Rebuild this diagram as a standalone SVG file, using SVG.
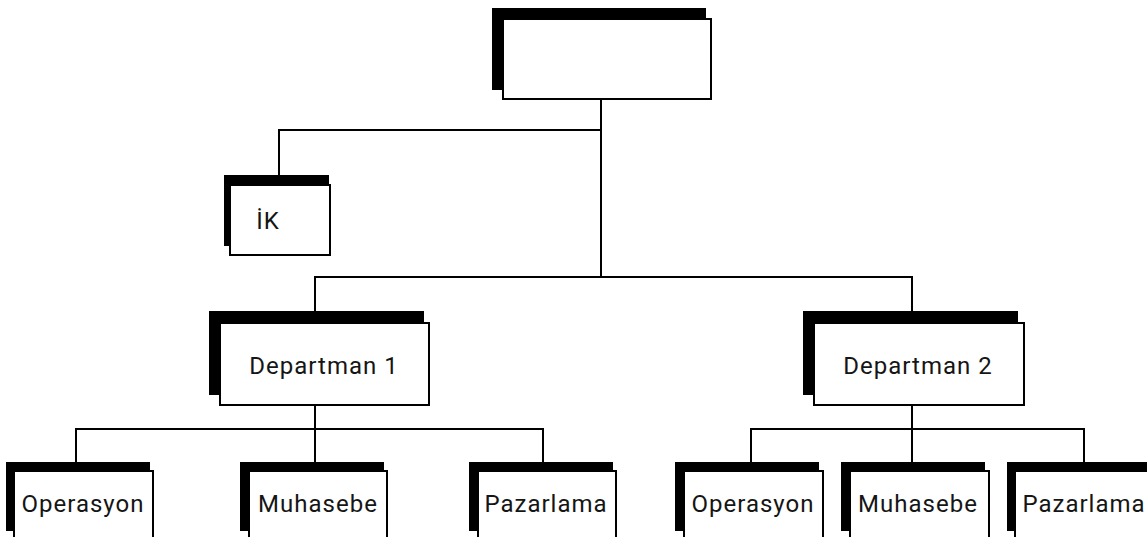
<svg xmlns="http://www.w3.org/2000/svg" width="1147" height="537" viewBox="0 0 1147 537">
  <style>
    .shadow { fill: #000; }
    .box { fill: #fff; stroke: #000; stroke-width: 2; }
    .label { font-family: Roboto, "DejaVu Sans", "Liberation Sans", sans-serif; font-size: 24px; letter-spacing: 1px; fill: #151515; text-anchor: middle; }
    .wire { fill: none; stroke: #000; stroke-width: 2; }
  </style>
  <rect width="1147" height="537" fill="#fff"/>

  <!-- connectors -->
  <g id="connectors">
    <path class="wire" d="M601 100 V277"/>
    <path class="wire" d="M601 130 H279 V176"/>
    <path class="wire" d="M315 312 V277 H912 V312"/>
    <path class="wire" d="M315 406 V429"/>
    <path class="wire" d="M76 463 V429 H543 V463 M315 429 V463"/>
    <path class="wire" d="M912 406 V429"/>
    <path class="wire" d="M751 463 V429 H1084 V463 M912 429 V463"/>
  </g>

  <!-- top-level box -->
  <g id="node-top">
    <rect class="shadow" x="492" y="8" width="214" height="82"/>
    <rect class="box" x="503" y="19" width="208" height="80"/>
  </g>

  <g id="node-ik">
    <rect class="shadow" x="224" y="175" width="105" height="71"/>
    <rect class="box" x="230" y="185" width="100" height="70"/>
    <text class="label" x="268" y="229">İK</text>
  </g>

  <g id="node-dept1">
    <rect class="shadow" x="209" y="311" width="215" height="84"/>
    <rect class="box" x="220" y="323" width="209" height="82"/>
    <text class="label" x="324" y="374">Departman 1</text>
  </g>

  <g id="node-dept2">
    <rect class="shadow" x="803" y="311" width="215" height="84"/>
    <rect class="box" x="814" y="323" width="210" height="82"/>
    <text class="label" x="918" y="374">Departman 2</text>
  </g>

  <g id="node-d1-operasyon">
    <rect class="shadow" x="6" y="462" width="144" height="69"/>
    <rect class="box" x="14" y="471" width="139" height="70"/>
    <text class="label" x="83" y="512">Operasyon</text>
  </g>

  <g id="node-d1-muhasebe">
    <rect class="shadow" x="240" y="462" width="144" height="69"/>
    <rect class="box" x="249" y="471" width="138" height="70"/>
    <text class="label" x="318" y="512">Muhasebe</text>
  </g>

  <g id="node-d1-pazarlama">
    <rect class="shadow" x="469" y="462" width="144" height="69"/>
    <rect class="box" x="478" y="471" width="138" height="70"/>
    <text class="label" x="546" y="512">Pazarlama</text>
  </g>

  <g id="node-d2-operasyon">
    <rect class="shadow" x="675" y="462" width="144" height="69"/>
    <rect class="box" x="684" y="471" width="139" height="70"/>
    <text class="label" x="753" y="512">Operasyon</text>
  </g>

  <g id="node-d2-muhasebe">
    <rect class="shadow" x="841" y="462" width="144" height="69"/>
    <rect class="box" x="850" y="471" width="139" height="70"/>
    <text class="label" x="918" y="512">Muhasebe</text>
  </g>

  <g id="node-d2-pazarlama">
    <rect class="shadow" x="1007" y="462" width="144" height="69"/>
    <rect class="box" x="1015" y="471" width="139" height="70"/>
    <text class="label" x="1084" y="512">Pazarlama</text>
  </g>
</svg>
